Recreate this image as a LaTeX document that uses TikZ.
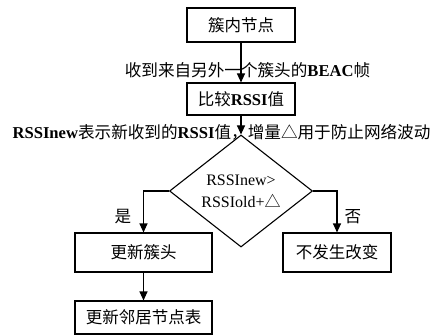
\documentclass[tikz,border=0pt]{standalone}
\usepackage{fontspec}
\setmainfont{Liberation Serif}
\newfontfamily\cjk{Noto Sans CJK SC}
\usetikzlibrary{shapes,arrows,positioning,calc,arrows.meta}

\begin{document}
\begin{tikzpicture}[x=1pt,y=-1pt,
    box/.style={draw, line width=1.1pt, inner sep=0pt, font=\fontsize{16.5}{18}\selectfont\cjk},
    decision/.style={draw, diamond, line width=1.1pt, minimum width=143pt, minimum height=72pt, inner sep=0pt, align=center, font=\fontsize{16}{22}\selectfont},
    flow/.style={line width=1.1pt, -{Triangle[length=9pt,width=8pt]}},
    lbl/.style={font=\fontsize{16.6}{18}\selectfont, inner sep=0pt}]
    \useasboundingbox (0,0) rectangle (438,334);

    % Boxes
    \node[box, minimum width=108pt, minimum height=34pt] (inner) at (241,25) {簇内节点};
    \node[box, minimum width=108pt, minimum height=32pt] (cmp) at (241,99) {比较\textrm{\textbf{RSSI}}值};
    \node[decision] (test) at (241,191) {RSSInew>\\RSSIold+{\cjk △}};
    \node[box, minimum width=137pt, minimum height=39pt] (newhead) at (143.5,252.5) {更新簇头};
    \node[box, minimum width=108pt, minimum height=39pt] (keep) at (337,252.5) {不发生改变};
    \node[box, minimum width=137pt, minimum height=33pt] (table) at (143.5,317.5) {更新邻居节点表};

    % Flow
    \draw[flow] (inner) -- (cmp);
    \draw[flow] (cmp) -- (test);
    \draw[flow] (test.west) -| (newhead);
    \draw[flow] (test.east) -| (keep);
    \draw[flow] (newhead) -- (table);

    % Labels
    \node[lbl] (beac) at (247.5,70) {{\cjk 收到来自另外一个簇头的}\textbf{BEAC}{\cjk 帧}};
    \node[lbl] (note) at (221.5,132) {\textbf{RSSInew}{\cjk 表示新收到的}\textbf{RSSI}{\cjk 值，增量△用于防止网络波动}};
    \node[lbl] (yes) at (123,217) {\cjk 是};
    \node[lbl] (no) at (353,217) {\cjk 否};
\end{tikzpicture}
\end{document}
